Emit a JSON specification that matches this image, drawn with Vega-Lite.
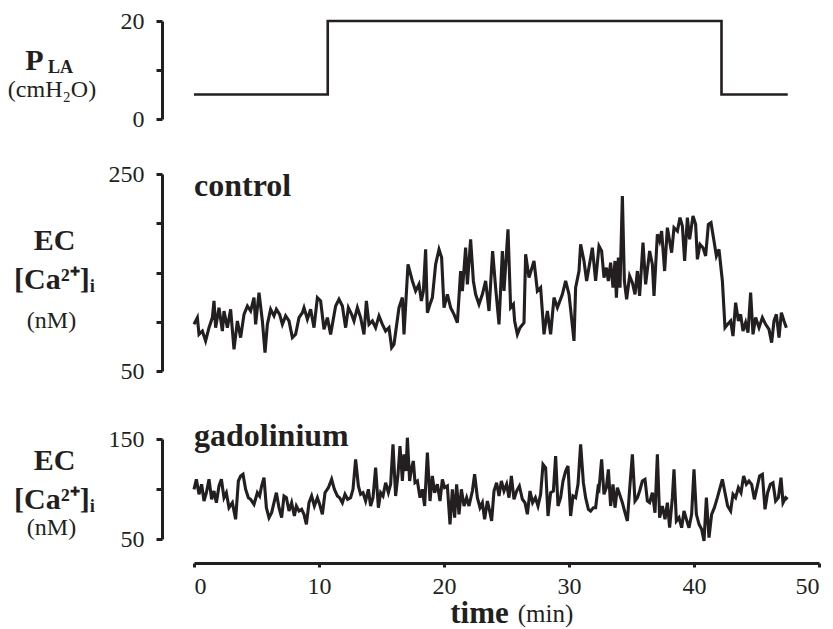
{
"$schema": "https://vega.github.io/schema/vega-lite/v6.json",
"padding": {"left": 7, "top": 9, "right": 0, "bottom": 0},
"background": "white",
"config": {
 "view": {"stroke": null},
 "font": "Liberation Serif",
 "axis": {"domainColor": "#231f20", "domainWidth": 3, "tickColor": "#231f20", "tickWidth": 3, "tickSize": 6, "labelFont": "Liberation Serif", "labelFontSize": 24, "labelColor": "#231f20", "grid": false, "titleColor": "#231f20", "titleFont": "Liberation Serif", "titleAngle": 0, "titleAlign": "center", "titleBaseline": "alphabetic"},
 "title": {"offset": 0, "color": "#231f20", "font": "Liberation Serif", "anchor": "start", "frame": "group", "baseline": "alphabetic"}
},
"datasets": {
 "pla": [{"t":0,"p":5},{"t":10.7,"p":20},{"t":42.2,"p":5},{"t":47.5,"p":5}],
 "control": [
{"t":0,"v":97.4},{"t":0.27,"v":104.2},{"t":0.4,"v":87.2},{"t":0.67,"v":90.6},{"t":0.93,"v":80.5},{"t":1.2,"v":94},{"t":1.47,"v":104.2},{"t":1.6,"v":121.1},{"t":1.73,"v":94},{"t":2,"v":114.3},{"t":2.27,"v":90.6},{"t":2.4,"v":110.9},{"t":2.67,"v":94},{"t":2.93,"v":112.6},{"t":3.2,"v":72},{"t":3.47,"v":100.8},{"t":3.73,"v":83.9},{"t":4,"v":107.5},{"t":4.27,"v":116},{"t":4.53,"v":110.9},{"t":4.8,"v":124.5},{"t":4.93,"v":97.4},{"t":5.2,"v":129.5},{"t":5.47,"v":100.8},{"t":5.68,"v":68.6},{"t":5.87,"v":97.4},{"t":6.13,"v":112.6},{"t":6.4,"v":105.9},{"t":6.59,"v":112.6},{"t":6.85,"v":107.5},{"t":7.07,"v":97.4},{"t":7.33,"v":105.9},{"t":7.6,"v":100.8},{"t":7.87,"v":83.9},{"t":8.13,"v":87.2},{"t":8.4,"v":104.2},{"t":8.67,"v":109.2},{"t":8.8,"v":114.3},{"t":9.07,"v":102.5},{"t":9.33,"v":112.6},{"t":9.6,"v":94},{"t":9.87,"v":124.5},{"t":10.13,"v":121.1},{"t":10.4,"v":92.3},{"t":10.67,"v":104.2},{"t":10.93,"v":87.2},{"t":11.33,"v":116},{"t":11.6,"v":122.8},{"t":11.87,"v":116},{"t":12.13,"v":94},{"t":12.35,"v":114.3},{"t":12.61,"v":107.5},{"t":12.8,"v":100.8},{"t":13.07,"v":114.3},{"t":13.33,"v":104.2},{"t":13.6,"v":87.2},{"t":13.79,"v":121.1},{"t":14,"v":97.4},{"t":14.27,"v":100.8},{"t":14.53,"v":94},{"t":14.8,"v":105.9},{"t":15.07,"v":97.4},{"t":15.33,"v":90.6},{"t":15.6,"v":94},{"t":15.81,"v":73.7},
{"t":16,"v":77.1},{"t":16.4,"v":114.3},{"t":16.67,"v":124.5},{"t":16.8,"v":87.2},{"t":17.12,"v":158.3},{"t":17.47,"v":141.4},{"t":17.73,"v":131.2},{"t":18,"v":138},{"t":18.19,"v":121.1},{"t":18.35,"v":131.2},{"t":18.53,"v":173.5},{"t":18.67,"v":109.2},{"t":18.88,"v":117.7},{"t":19.07,"v":124.5},{"t":19.33,"v":158.3},{"t":19.6,"v":173.5},{"t":19.81,"v":165.1},{"t":20,"v":114.3},{"t":20.27,"v":127.8},{"t":20.53,"v":114.3},{"t":20.8,"v":107.5},{"t":21.07,"v":99.1},{"t":21.33,"v":151.5},{"t":21.47,"v":131.2},{"t":21.73,"v":175.2},{"t":21.87,"v":138},{"t":22.13,"v":183.7},{"t":22.35,"v":141.4},{"t":22.53,"v":127.8},{"t":22.8,"v":117.7},{"t":23.07,"v":127.8},{"t":23.33,"v":141.4},{"t":23.6,"v":110.9},{"t":23.89,"v":171.8},{"t":24.13,"v":134.6},{"t":24.4,"v":97.4},{"t":24.67,"v":171.8},{"t":24.8,"v":131.2},{"t":25.12,"v":193.8},{"t":25.33,"v":114.3},{"t":25.55,"v":117.7},{"t":25.65,"v":100.8},{"t":25.87,"v":87.2},{"t":26.08,"v":94},{"t":26.4,"v":99.1},{"t":26.53,"v":168.5},{"t":26.8,"v":144.8},{"t":27.2,"v":161.7},{"t":27.47,"v":131.2},{"t":27.73,"v":134.6},{"t":28,"v":87.2},{"t":28.27,"v":110.9},{"t":28.53,"v":87.2},{"t":28.8,"v":124.5},{"t":29.07,"v":114.3},{"t":29.47,"v":127.8},{"t":29.73,"v":141.4},{"t":30,"v":127.8},{"t":30.4,"v":80.5},{"t":30.53,"v":134.6},{"t":30.8,"v":151.5},{"t":30.93,"v":178.6},{"t":31.2,"v":161.7},{"t":31.41,"v":141.4},{"t":31.87,"v":175.2},{"t":32.13,"v":141.4},
{"t":32.4,"v":176.9},{"t":32.61,"v":171.8},{"t":32.8,"v":144.8},{"t":32.99,"v":154.9},{"t":33.15,"v":141.4},{"t":33.33,"v":160},{"t":33.52,"v":134.6},{"t":33.68,"v":161.7},{"t":33.79,"v":124.5},{"t":33.95,"v":165.1},{"t":34.08,"v":134.6},{"t":34.27,"v":227.7},{"t":34.43,"v":141.4},{"t":34.61,"v":122.8},{"t":34.85,"v":146.5},{"t":35.07,"v":139.7},{"t":35.28,"v":127.8},{"t":35.47,"v":151.5},{"t":35.65,"v":126.2},{"t":35.92,"v":180.3},{"t":36.13,"v":138},{"t":36.45,"v":171.8},{"t":36.67,"v":158.3},{"t":36.8,"v":126.2},{"t":37.07,"v":188.8},{"t":37.25,"v":182},{"t":37.41,"v":192.1},{"t":37.65,"v":151.5},{"t":37.87,"v":195.5},{"t":38.05,"v":182},{"t":38.21,"v":170.1},{"t":38.4,"v":195.5},{"t":38.67,"v":192.1},{"t":38.88,"v":205.7},{"t":39.07,"v":197.2},{"t":39.25,"v":161.7},{"t":39.47,"v":205.7},{"t":39.65,"v":183.7},{"t":39.92,"v":207.4},{"t":40.13,"v":198.9},{"t":40.27,"v":163.4},{"t":40.48,"v":178.6},{"t":40.72,"v":175.2},{"t":40.93,"v":166.8},{"t":41.15,"v":198.9},{"t":41.36,"v":200.6},{"t":41.6,"v":182},{"t":41.79,"v":166.8},{"t":42,"v":173.5},{"t":42.27,"v":141.4},{"t":42.48,"v":94},{"t":42.69,"v":97.4},{"t":42.93,"v":100.8},{"t":43.12,"v":85.5},{"t":43.33,"v":119.4},{"t":43.55,"v":100.8},{"t":43.73,"v":107.5},{"t":43.92,"v":90.6},{"t":44.13,"v":99.1},{"t":44.32,"v":88.9},{"t":44.53,"v":129.5},{"t":44.72,"v":87.2},{"t":44.93,"v":104.2},{"t":45.2,"v":94},{"t":45.47,"v":104.2},{"t":45.73,"v":97.4},{"t":46,"v":92.3},{"t":46.21,"v":78.8},{"t":46.4,"v":100.8},{"t":46.59,"v":107.5},{"t":46.8,"v":83.9},{"t":46.99,"v":109.2},{"t":47.2,"v":100.8},{"t":47.39,"v":94}
 ],
 "gad": [
{"t":0,"v":99.7},{"t":0.19,"v":109.7},{"t":0.4,"v":94.7},{"t":0.61,"v":104.7},{"t":0.8,"v":88},{"t":0.99,"v":96.3},{"t":1.2,"v":109.7},{"t":1.41,"v":89.7},{"t":1.6,"v":98},{"t":1.79,"v":86.3},{"t":2,"v":103},{"t":2.19,"v":109.7},{"t":2.4,"v":91.3},{"t":2.59,"v":96.3},{"t":2.8,"v":81.3},{"t":3.07,"v":86.3},{"t":3.33,"v":69.7},{"t":3.55,"v":108},{"t":3.73,"v":113},{"t":3.92,"v":114.7},{"t":4.13,"v":99.7},{"t":4.35,"v":91.3},{"t":4.53,"v":89.7},{"t":4.8,"v":84.7},{"t":5.07,"v":96.3},{"t":5.25,"v":93},{"t":5.41,"v":103},{"t":5.6,"v":111.3},{"t":5.79,"v":81.3},{"t":6,"v":71.3},{"t":6.21,"v":76.3},{"t":6.4,"v":86.3},{"t":6.59,"v":96.3},{"t":6.8,"v":81.3},{"t":7.01,"v":71.3},{"t":7.2,"v":93},{"t":7.39,"v":91.3},{"t":7.6,"v":78},{"t":7.81,"v":86.3},{"t":8.03,"v":73},{"t":8.19,"v":83},{"t":8.4,"v":78},{"t":8.61,"v":79.7},{"t":8.8,"v":74.7},{"t":8.99,"v":64.7},{"t":9.2,"v":86.3},{"t":9.41,"v":93},{"t":9.63,"v":83},{"t":9.87,"v":91.3},{"t":10.05,"v":84.7},{"t":10.27,"v":74.7},{"t":10.48,"v":96.3},{"t":10.75,"v":101.3},{"t":11.01,"v":109.7},{"t":11.23,"v":99.7},{"t":11.47,"v":93},{"t":11.65,"v":91.3},{"t":11.87,"v":86.3},{"t":12.08,"v":94.7},{"t":12.29,"v":89.7},{"t":12.53,"v":91.3},{"t":12.72,"v":99.7},{"t":12.93,"v":129.7},{"t":13.15,"v":103},{"t":13.33,"v":94.7},{"t":13.52,"v":96.3},{"t":13.73,"v":88},{"t":13.95,"v":99.7},{"t":14.13,"v":83},{"t":14.32,"v":91.3},{"t":14.53,"v":121.3},{"t":14.75,"v":81.3},{"t":14.93,"v":96.3},{"t":15.12,"v":93},{"t":15.33,"v":106.3},{"t":15.55,"v":96.3},{"t":15.73,"v":104.7},{"t":15.92,"v":144.7},
{"t":16,"v":124.7},{"t":16.13,"v":93},{"t":16.32,"v":114.7},{"t":16.48,"v":143},{"t":16.67,"v":108},{"t":16.8,"v":134.7},{"t":16.96,"v":118},{"t":17.07,"v":151.3},{"t":17.25,"v":108},{"t":17.41,"v":121.3},{"t":17.55,"v":128},{"t":17.68,"v":106.3},{"t":17.87,"v":108},{"t":18.08,"v":91.3},{"t":18.27,"v":99.7},{"t":18.45,"v":83},{"t":18.67,"v":136.3},{"t":18.88,"v":88},{"t":19.07,"v":113},{"t":19.25,"v":96.3},{"t":19.47,"v":104.7},{"t":19.68,"v":88},{"t":19.87,"v":109.7},{"t":20.05,"v":101.3},{"t":20.27,"v":103},{"t":20.48,"v":64.7},{"t":20.67,"v":99.7},{"t":20.85,"v":71.3},{"t":21.01,"v":104.7},{"t":21.2,"v":74.7},{"t":21.39,"v":99.7},{"t":21.6,"v":83},{"t":21.81,"v":91.3},{"t":22,"v":83},{"t":22.27,"v":98},{"t":22.45,"v":114.7},{"t":22.67,"v":91.3},{"t":22.88,"v":81.3},{"t":23.07,"v":86.3},{"t":23.25,"v":69.7},{"t":23.47,"v":88},{"t":23.65,"v":78},{"t":23.81,"v":68},{"t":24,"v":98},{"t":24.21,"v":106.3},{"t":24.4,"v":93},{"t":24.59,"v":108},{"t":24.8,"v":98},{"t":25.01,"v":104.7},{"t":25.2,"v":91.3},{"t":25.39,"v":113},{"t":25.6,"v":89.7},{"t":25.81,"v":98},{"t":26.03,"v":103},{"t":26.27,"v":89.7},{"t":26.48,"v":86.3},{"t":26.67,"v":74.7},{"t":26.88,"v":98},{"t":27.09,"v":86.3},{"t":27.31,"v":91.3},{"t":27.52,"v":83},{"t":27.73,"v":94.7},{"t":27.92,"v":124.7},{"t":28.13,"v":121.3},{"t":28.32,"v":73},{"t":28.53,"v":96.3},{"t":28.75,"v":98},{"t":28.93,"v":133},{"t":29.12,"v":83},{"t":29.33,"v":91.3},{"t":29.52,"v":108},{"t":29.73,"v":118},{"t":29.92,"v":123},{"t":30.13,"v":73},{"t":30.32,"v":93},{"t":30.53,"v":91.3},{"t":30.72,"v":104.7},{"t":30.93,"v":144.7},{"t":31.15,"v":106.3},{"t":31.33,"v":91.3},{"t":31.55,"v":79.7},{"t":31.73,"v":78},{"t":31.95,"v":81.3},{"t":32.13,"v":81.3},{"t":32.32,"v":101.3},
{"t":32.4,"v":99.7},{"t":32.61,"v":129.7},{"t":32.8,"v":94.7},{"t":32.99,"v":101.3},{"t":33.15,"v":119.7},{"t":33.33,"v":83},{"t":33.52,"v":104.7},{"t":33.68,"v":81.3},{"t":33.87,"v":101.3},{"t":34.05,"v":94.7},{"t":34.27,"v":86.3},{"t":34.48,"v":76.3},{"t":34.67,"v":68},{"t":34.85,"v":99.7},{"t":35.07,"v":134.7},{"t":35.28,"v":88},{"t":35.47,"v":91.3},{"t":35.65,"v":98},{"t":35.87,"v":108},{"t":36.08,"v":109.7},{"t":36.27,"v":88},{"t":36.45,"v":86.3},{"t":36.67,"v":96.3},{"t":36.88,"v":76.3},{"t":37.07,"v":134.7},{"t":37.25,"v":71.3},{"t":37.47,"v":83},{"t":37.68,"v":69.7},{"t":37.87,"v":86.3},{"t":38.05,"v":61.3},{"t":38.27,"v":91.3},{"t":38.4,"v":119.7},{"t":38.59,"v":68},{"t":38.8,"v":71.3},{"t":39.01,"v":61.3},{"t":39.2,"v":78},{"t":39.39,"v":69.7},{"t":39.6,"v":61.3},{"t":39.81,"v":74.7},{"t":40,"v":119.7},{"t":40.19,"v":74.7},{"t":40.4,"v":64.7},{"t":40.61,"v":59.7},{"t":40.8,"v":48},{"t":40.99,"v":91.3},{"t":41.2,"v":51.3},{"t":41.41,"v":74.7},{"t":41.63,"v":81.3},{"t":41.87,"v":91.3},{"t":42.05,"v":99.7},{"t":42.27,"v":109.7},{"t":42.48,"v":96.3},{"t":42.69,"v":83},{"t":42.93,"v":78},{"t":43.12,"v":94.7},{"t":43.33,"v":91.3},{"t":43.55,"v":101.3},{"t":43.76,"v":96.3},{"t":43.97,"v":113},{"t":44.19,"v":104.7},{"t":44.4,"v":108},{"t":44.61,"v":104.7},{"t":44.83,"v":89.7},{"t":45.04,"v":101.3},{"t":45.25,"v":113},{"t":45.47,"v":114.7},{"t":45.68,"v":79.7},{"t":45.89,"v":96.3},{"t":46.11,"v":104.7},{"t":46.32,"v":106.3},{"t":46.53,"v":88},{"t":46.75,"v":91.3},{"t":46.96,"v":111.3},{"t":47.12,"v":86.3},{"t":47.33,"v":91.3},{"t":47.49,"v":89.7}
 ]
},
"spacing": 55,
"bounds": "flush",
"vconcat": [
 {
  "width": 625, "height": 98,
  "data": {"name": "pla"},
  "title": {"text": "(cmH₂O)", "fontSize": 24, "fontWeight": "normal", "align": "center", "dx": -142, "dy": 97},
  "mark": {"type": "line", "interpolate": "step-after", "color": "#231f20", "strokeWidth": 2.6},
  "encoding": {
   "x": {"field": "t", "type": "quantitative", "scale": {"domain": [0, 50], "nice": false}, "axis": {"domain": false, "ticks": false, "labels": false, "title": "LA", "titleFontSize": 18, "titleFontWeight": "bold", "titleX": -134, "titleY": -47}},
   "y": {"field": "p", "type": "quantitative", "scale": {"domain": [0, 20], "nice": false}, "axis": {"values": [0, 10, 20], "labelExpr": "datum.value == 10 ? '' : datum.label", "offset": 32, "labelPadding": 12, "title": "P", "titleFontSize": 30, "titleFontWeight": "bold", "titleX": -128, "titleY": 48}}
  }
 },
 {
  "width": 625, "height": 197,
  "data": {"name": "control"},
  "title": {"text": "control", "fontSize": 32, "fontWeight": "bold", "align": "left", "dy": 45},
  "mark": {"type": "line", "color": "#231f20", "strokeWidth": 3.1},
  "encoding": {
   "x": {"field": "t", "type": "quantitative", "scale": {"domain": [0, 50], "nice": false}, "axis": {"domain": false, "ticks": false, "labels": false, "title": "(nM)", "titleFontSize": 24, "titleFontWeight": "normal", "titleX": -143, "titleY": -44}},
   "y": {"field": "v", "type": "quantitative", "scale": {"domain": [50, 250], "nice": false}, "axis": {"values": [50, 100, 150, 200, 250], "labelExpr": "datum.value == 50 || datum.value == 250 ? datum.label : ''", "offset": 32, "labelPadding": 12, "title": ["EC", "[Ca²⁺]ᵢ"], "titleFontSize": 30, "titleFontWeight": "bold", "titleX": -108, "titleY": 75, "titleLineHeight": 39}}
  }
 },
 {
  "width": 625, "height": 113,
  "data": {"name": "gad"},
  "title": {"text": "gadolinium", "fontSize": 32, "fontWeight": "bold", "align": "left", "dy": 31},
  "resolve": {"axis": {"x": "independent", "y": "independent"}},
  "layer": [
   {
    "mark": {"type": "line", "color": "#231f20", "strokeWidth": 3.1},
    "encoding": {
     "x": {"field": "t", "type": "quantitative", "scale": {"domain": [0, 50], "nice": false}, "axis": {"values": [0, 10, 20, 30, 40, 50], "offset": 24, "tickSize": 4, "labelPadding": 7, "title": "time", "titleFontSize": 31, "titleFontWeight": "bold", "titleX": 285, "titleY": 59}},
     "y": {"field": "v", "type": "quantitative", "scale": {"domain": [50, 150], "nice": false, "range": [113, 13]}, "axis": {"values": [50, 100, 150], "labelExpr": "datum.value == 50 || datum.value == 150 ? datum.label : ''", "offset": 32, "labelPadding": 12, "title": ["EC", "[Ca²⁺]ᵢ"], "titleFontSize": 30, "titleFontWeight": "bold", "titleX": -108, "titleY": 43, "titleLineHeight": 39}}
    }
   },
   {
    "mark": {"type": "line", "strokeOpacity": 0},
    "encoding": {
     "x": {"field": "t", "type": "quantitative", "axis": {"orient": "bottom", "offset": 24, "domain": false, "ticks": false, "labels": false, "title": "(min)", "titleFontSize": 25, "titleFontWeight": "normal", "titleX": 351, "titleY": 58}},
     "y": {"field": "v", "type": "quantitative", "axis": {"orient": "left", "offset": 32, "domain": false, "ticks": false, "labels": false, "title": "(nM)", "titleFontSize": 24, "titleFontWeight": "normal", "titleX": -111, "titleY": 108}}
    }
   }
  ]
 }
]
}
